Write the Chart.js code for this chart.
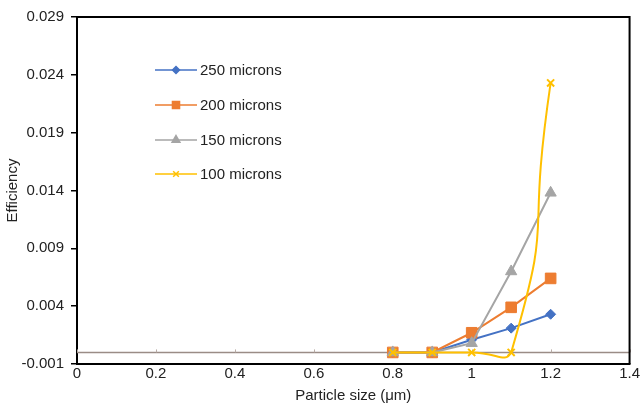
<!DOCTYPE html>
<html>
<head>
<meta charset="utf-8">
<script src="https://cdn.jsdelivr.net/npm/chart.js@4.4.0/dist/chart.umd.min.js"></script>
<style>
html,body{margin:0;padding:0;background:#fff;}
#wrap{width:641px;height:405px;position:relative;}
</style>
</head>
<body>
<div id="wrap"><canvas id="c" width="641" height="405"></canvas></div>
<script>
const particleSize = [0.8, 0.9, 1.0, 1.1, 1.2];
const eff250 = [0, 0, 0.0011, 0.0021, 0.0033];
const eff200 = [0, 0, 0.0017, 0.0039, 0.0064];
const eff150 = [0, 0, 0.0008, 0.0070, 0.0138];
const eff100 = [0, 0, 0, 0, 0.0233];
const seriesNames = ['250 microns', '200 microns', '150 microns', '100 microns'];
const yTicks = [-0.001, 0.004, 0.009, 0.014, 0.019, 0.024, 0.029];
const xTicks = [0, 0.2, 0.4, 0.6, 0.8, 1, 1.2, 1.4];

const FONT = '"Liberation Sans", Arial, sans-serif';
const colors = ['#4472C4', '#ED7D31', '#A5A5A5', '#FFC000'];
const styles = ['rectRot', 'rect', 'triangle', 'crossRot'];
const radii = [5, 7.5, 6.5, 5];
const allVals = [eff250, eff200, eff150, eff100];

const datasets = allVals.map((vals, i) => ({
  label: seriesNames[i],
  data: particleSize.map((x, j) => ({x: x, y: vals[j]})),
  borderColor: colors[i],
  backgroundColor: colors[i],
  borderWidth: 2,
  pointStyle: styles[i],
  pointRadius: radii[i],
  pointBorderWidth: i === 3 ? 2 : 1,
  tension: i === 3 ? 0.65 : 0,
  order: 4 - i
}));

const framePlugin = {
  id: 'frame',
  beforeDatasetsDraw(chart) {
    const {ctx, chartArea: a, scales: {x, y}} = chart;
    const y0 = y.getPixelForValue(0);
    ctx.save();
    ctx.strokeStyle = '#9a8c86';
    ctx.lineWidth = 1.5;
    ctx.beginPath();
    ctx.moveTo(a.left, y0);
    ctx.lineTo(a.right, y0);
    ctx.stroke();
    ctx.lineWidth = 1;
    ctx.strokeStyle = '#b8aca6';
    xTicks.forEach(v => {
      const px = Math.round(x.getPixelForValue(v)) + 0.5;
      ctx.beginPath();
      ctx.moveTo(px, y0);
      ctx.lineTo(px, y0 - 3);
      ctx.stroke();
    });
    ctx.restore();
  },
  afterDraw(chart) {
    const {ctx, chartArea: a} = chart;
    ctx.save();
    ctx.strokeStyle = '#000';
    ctx.lineWidth = 2;
    ctx.beginPath();
    ctx.moveTo(a.left, a.top);
    ctx.lineTo(a.right, a.top);
    ctx.lineTo(a.right, a.bottom);
    ctx.stroke();
    // legend
    const lx0 = 155, lx1 = 197, tx = 200;
    const rows = [70, 105, 140, 174];
    const lr = [3.5, 5, 4.5, 4];
    chart.data.datasets.forEach((ds, i) => {
      const yy = rows[i];
      ctx.strokeStyle = ds.borderColor;
      ctx.lineWidth = 1.5;
      ctx.beginPath();
      ctx.moveTo(lx0, yy);
      ctx.lineTo(lx1, yy);
      ctx.stroke();
      ctx.fillStyle = ds.backgroundColor;
      Chart.helpers.drawPoint(ctx, {
        pointStyle: ds.pointStyle, radius: lr[i], rotation: 0, borderWidth: 1
      }, (lx0 + lx1) / 2, yy);
      ctx.fillStyle = '#222';
      ctx.font = '15px ' + FONT;
      ctx.textBaseline = 'middle';
      ctx.textAlign = 'left';
      ctx.fillText(ds.label, tx, yy + 1);
    });
    ctx.restore();
  }
};

new Chart(document.getElementById('c'), {
  type: 'line',
  data: {datasets: datasets},
  options: {
    responsive: false,
    animation: false,
    layout: {padding: {top: 17, right: 11, left: 0, bottom: 0}},
    plugins: {legend: {display: false}, tooltip: {enabled: false}},
    scales: {
      x: {
        type: 'linear',
        min: 0, max: 1.4,
        afterBuildTicks: s => { s.ticks = xTicks.map(v => ({value: v})); },
        afterFit: s => { s.height = 41; },
        grid: {display: true, drawOnChartArea: false, drawTicks: false, color: '#000', lineWidth: 1.5},
        border: {display: true, color: '#000', width: 2},
        ticks: {color: '#222', font: {family: FONT, size: 15}, padding: 1, maxRotation: 0,
          callback: v => String(Math.round(v * 10) / 10)},
        title: {display: true, text: 'Particle size (μm)', color: '#222', font: {family: FONT, size: 15}, padding: {top: 1, bottom: 0}}
      },
      y: {
        type: 'linear',
        min: -0.001, max: 0.029,
        afterBuildTicks: s => { s.ticks = yTicks.map(v => ({value: v})); },
        afterFit: s => { s.width = 77; },
        grid: {display: true, drawOnChartArea: false, drawTicks: true, tickLength: 6, color: '#000', lineWidth: 1.5},
        border: {display: true, color: '#000', width: 2},
        ticks: {color: '#222', font: {family: FONT, size: 15}, padding: 7,
          callback: v => v.toFixed(3)},
        title: {display: true, text: 'Efficiency', color: '#222', font: {family: FONT, size: 15}, padding: {top: 4, bottom: 0}}
      }
    }
  },
  plugins: [framePlugin]
});
</script>
</body>
</html>
